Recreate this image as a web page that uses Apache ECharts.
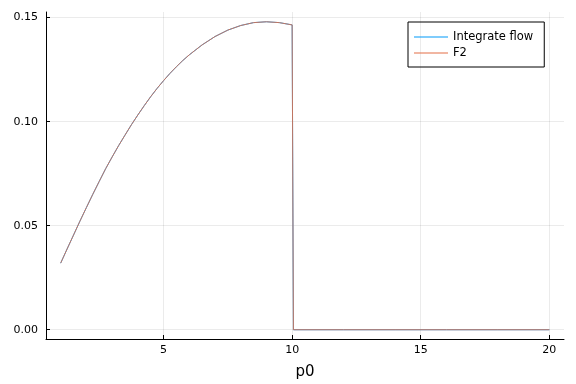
<!DOCTYPE html>
<html>
<head>
<meta charset="utf-8">
<script src="https://cdn.jsdelivr.net/npm/echarts@6/dist/echarts.min.js"></script>
<style>html,body{margin:0;padding:0;background:#fff;}#c{width:576px;height:384px;}</style>
</head>
<body>
<div id="c"></div>
<script>
const p0 = [1.0,1.25,1.5,1.75,2.0,2.25,2.5,2.75,3.0,3.25,3.5,3.75,4.0,4.25,4.5,4.75,5.0,5.25,5.5,5.75,6.0,6.5,7.0,7.5,8.0,8.5,9.0,9.5,10.0,10.05,12.0,14.0,16.0,18.0,20.0];
const integrateFlow = [0.032,0.0388,0.0455,0.0522,0.0587,0.0651,0.0713,0.0774,0.0830,0.0884,0.0935,0.0985,0.1032,0.1077,0.1120,0.1160,0.1197,0.1232,0.1264,0.1294,0.1321,0.1369,0.1409,0.1440,0.1462,0.1476,0.1480,0.1476,0.1465,0,0,0,0,0,0];
const f2 = [0.032,0.0388,0.0455,0.0522,0.0587,0.0651,0.0713,0.0774,0.0830,0.0884,0.0935,0.0985,0.1032,0.1077,0.1120,0.1160,0.1197,0.1232,0.1264,0.1294,0.1321,0.1369,0.1409,0.1440,0.1462,0.1476,0.1480,0.1476,0.1465,0,0,0,0,0,0];
const xTicks = [5,10,15,20];
const yTicks = [0,0.05,0.10,0.15];
const seriesNames = ['Integrate flow','F2'];

const font = 'DejaVu Sans';
const chart = echarts.init(document.getElementById('c'));
const pair = (xs, ys) => xs.map((x,i)=>[x, ys[i]]);
chart.setOption({
  animation:false,
  backgroundColor:'#fff',
  grid:{left:46,right:12,top:12,bottom:45,containLabel:false,outerBoundsMode:'none'},
  legend:{
    left:408, top:22, orient:'vertical',
    data:seriesNames,
    icon:'rect', itemWidth:34, itemHeight:1, itemGap:2,
    borderColor:'#000', borderWidth:1,
    padding:[8,11,7,6],
    textStyle:{fontFamily:font,fontSize:11.5,color:'#000',lineHeight:14}
  },
  xAxis:{
    type:'value', min:0.43, max:20.57,
    name:'p0', nameLocation:'middle', nameGap:26,
    nameTextStyle:{fontFamily:font,fontSize:15,color:'#000'},
    axisLine:{show:true,onZero:false,lineStyle:{color:'#000',width:1}},
    axisTick:{show:true,inside:true,length:4,customValues:xTicks,lineStyle:{color:'#000'}},
    axisLabel:{customValues:xTicks,fontFamily:font,fontSize:11,color:'#000',margin:6},
    splitLine:{show:true,lineStyle:{color:'rgba(0,0,0,0.08)',width:1}}
  },
  yAxis:{
    type:'value', min:-0.00445, max:0.1527,
    axisLine:{show:true,onZero:false,lineStyle:{color:'#000',width:1}},
    axisTick:{show:true,inside:true,length:4,customValues:yTicks,lineStyle:{color:'#000'}},
    axisLabel:{customValues:yTicks,fontFamily:font,fontSize:11,color:'#000',margin:8,
      formatter:v=>v.toFixed(2)},
    splitLine:{show:true,lineStyle:{color:'rgba(0,0,0,0.08)',width:1}}
  },
  series:[
    {name:seriesNames[0],type:'line',data:pair(p0,integrateFlow),symbol:'none',
     itemStyle:{color:'#009AFA'},lineStyle:{color:'#009AFA',width:1}},
    {name:seriesNames[1],type:'line',data:pair(p0,f2),symbol:'none',
     itemStyle:{color:'#E36F47'},lineStyle:{color:'#E36F47',width:1,opacity:0.85}}
  ]
});
</script>
</body>
</html>
